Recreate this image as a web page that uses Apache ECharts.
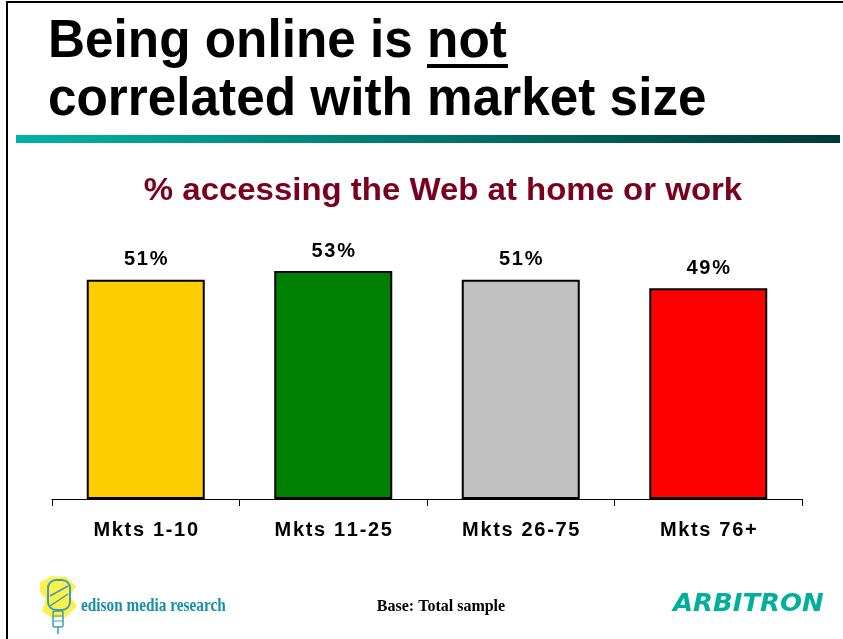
<!DOCTYPE html>
<html>
<head>
<meta charset="utf-8">
<script src="https://cdn.jsdelivr.net/npm/echarts@6/dist/echarts.min.js"></script>
<style>
html, body { margin: 0; padding: 0; background: #fff; }
#chart { width: 843px; height: 639px; }
</style>
</head>
<body>
<div id="chart"></div>
<script>
var markets = ['Mkts 1-10', 'Mkts 11-25', 'Mkts 26-75', 'Mkts 76+'];
var webShare = [51, 53, 51, 49];
var barColors = ['#ffcc00', '#008000', '#c0c0c0', '#ff0000'];

var myChart = echarts.init(document.getElementById('chart'));
var sans = '"Liberation Sans", Arial, sans-serif';
var serif = '"Liberation Serif", "Times New Roman", serif';

// the slide spreads its chart text a little, so put a hair space between letters
function spread(s) {
    return s.split('').join('\u200A');
}

var option = {
    backgroundColor: '#fff',
    animation: false,
    grid: { left: 52, right: 41, top: 241, bottom: 140 },
    xAxis: {
        type: 'category',
        data: markets,
        axisLine: { lineStyle: { color: '#000', width: 1 } },
        axisTick: { show: true, length: 7, lineStyle: { color: '#000' } },
        axisLabel: {
            margin: 21,
            color: '#000',
            fontFamily: sans,
            fontWeight: 'bold',
            fontSize: 20,
            formatter: function (v) { return spread(v); }
        }
    },
    yAxis: {
        type: 'value',
        min: 0,
        max: 60,
        show: false,
        splitLine: { show: false }
    },
    series: [{
        type: 'bar',
        barWidth: 118,
        data: webShare.map(function (v, i) {
            return { value: v, itemStyle: { color: barColors[i] } };
        }),
        itemStyle: { borderColor: '#000', borderWidth: 2 },
        label: {
            show: true,
            position: 'top',
            distance: 10,
            formatter: function (p) { return spread(p.value + '%'); },
            color: '#000',
            fontFamily: sans,
            fontWeight: 'bold',
            fontSize: 20
        }
    }],
    graphic: [
        // slide frame
        { type: 'rect', shape: { x: 6, y: 1, width: 837, height: 2 }, style: { fill: '#000' } },
        { type: 'rect', shape: { x: 6, y: 1, width: 2, height: 638 }, style: { fill: '#000' } },
        // headline
        { type: 'text', x: 48, y: 42, scaleY: 1.06, style: { x: 0, y: 0, text: 'Being online is not', fill: '#000',
            font: 'bold 51.3px ' + sans, verticalAlign: 'middle' } },
        { type: 'rect', shape: { x: 427, y: 64, width: 81, height: 4 }, style: { fill: '#000' } },
        { type: 'text', x: 48, y: 100, scaleY: 1.06, style: { x: 0, y: 0, text: 'correlated with market size', fill: '#000',
            font: 'bold 51.3px ' + sans, verticalAlign: 'middle' } },
        {
            type: 'rect',
            shape: { x: 16, y: 135, width: 824, height: 8 },
            style: {
                fill: new echarts.graphic.LinearGradient(0, 0, 1, 0, [
                    { offset: 0, color: '#00b3a3' },
                    { offset: 1, color: '#003b36' }
                ])
            }
        },
        // chart title
        { type: 'text', x: 443, y: 191, scaleX: 1.03, style: { x: 0, y: 0, text: '% accessing the Web at home or work', fill: '#7a0020',
            font: 'bold 32px ' + sans, align: 'center', verticalAlign: 'middle' } },
        // footer: logo
        { type: 'polygon', shape: { points: [[40, 582], [52, 576], [66, 577], [76, 586], [70, 596], [77, 606], [66, 617], [52, 618], [42, 611], [46, 599], [40, 592]] },
            style: { fill: '#fff04a' } },
        { type: 'rect', shape: { x: 48, y: 580, width: 22, height: 30, r: 8 },
            style: { fill: 'none', stroke: '#3a9fb8', lineWidth: 2 } },
        { type: 'line', shape: { x1: 50, y1: 596, x2: 68, y2: 586 }, style: { stroke: '#3a9fb8', lineWidth: 1.5 } },
        { type: 'line', shape: { x1: 50, y1: 606, x2: 68, y2: 594 }, style: { stroke: '#3a9fb8', lineWidth: 1.5 } },
        { type: 'rect', shape: { x: 53, y: 611, width: 10, height: 16, r: 2 },
            style: { fill: 'none', stroke: '#3a9fb8', lineWidth: 1.5 } },
        { type: 'line', shape: { x1: 53, y1: 616, x2: 63, y2: 616 }, style: { stroke: '#3a9fb8', lineWidth: 1 } },
        { type: 'line', shape: { x1: 53, y1: 621, x2: 63, y2: 621 }, style: { stroke: '#3a9fb8', lineWidth: 1 } },
        { type: 'line', shape: { x1: 58, y1: 627, x2: 58, y2: 634 }, style: { stroke: '#3a9fb8', lineWidth: 1.5 } },
        { type: 'text', x: 81, y: 606, scaleX: 0.85, style: { x: 0, y: 0, text: 'edison media research', fill: '#1a8ea6',
            font: 'bold 18px ' + serif, verticalAlign: 'middle' } },
        // footer: base note
        { type: 'text', style: { x: 441, y: 607, text: 'Base: Total sample', fill: '#000',
            font: 'bold 16px ' + serif, align: 'center', verticalAlign: 'middle' } },
        // footer: arbitron
        { type: 'text', x: 673, y: 605, scaleX: 1.08, style: { x: 0, y: 0, text: 'ARBITRON', fill: '#00b09a',
            font: 'italic bold 24px "DejaVu Sans", sans-serif', verticalAlign: 'middle' } }
    ]
};

myChart.setOption(option);
</script>
</body>
</html>
